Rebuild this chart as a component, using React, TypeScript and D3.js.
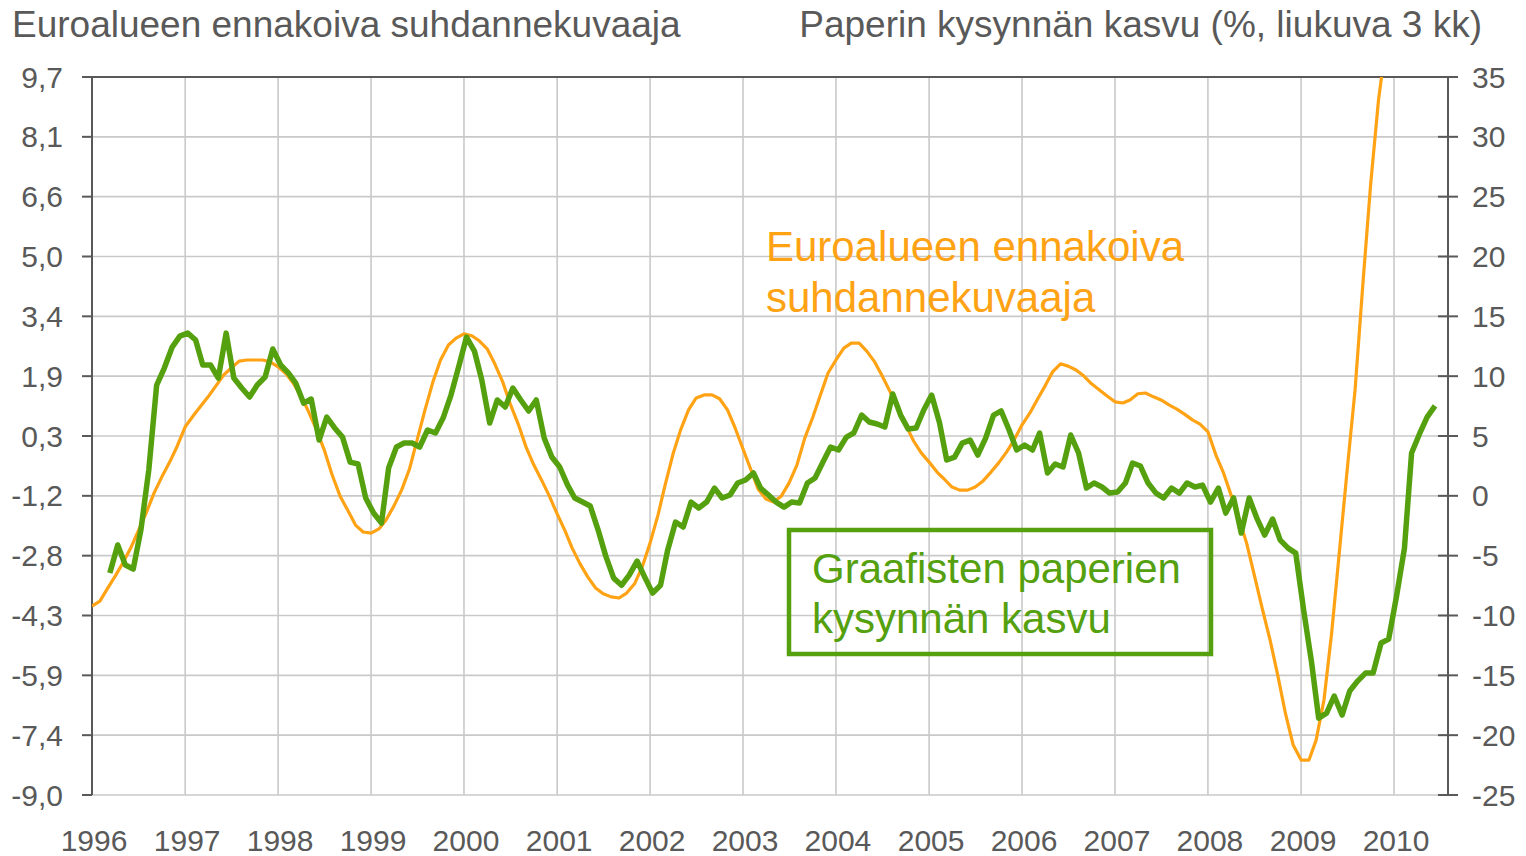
import * as d3 from "d3";
import { useRef, useEffect } from "react";

// Euroalueen ennakoiva suhdannekuvaaja, monthly from Jan 1996 (left axis)
const leadingIndicator: number[] = [
  -4.08, -3.95, -3.63, -3.30, -2.96, -2.57, -2.12, -1.65, -1.13, -0.72, -0.33, 0.09,
  0.59, 0.87, 1.11, 1.37, 1.65, 1.94, 2.12, 2.30, 2.33, 2.33, 2.33, 2.28,
  2.15, 1.97, 1.73, 1.39, 0.98, 0.51, -0.01, -0.66, -1.21, -1.58, -1.97, -2.15,
  -2.18, -2.07, -1.84, -1.47, -1.06, -0.51, 0.25, 1.03, 1.76, 2.33, 2.72, 2.90,
  3.01, 2.96, 2.83, 2.62, 2.23, 1.76, 1.18, 0.66, 0.06, -0.40, -0.80, -1.21,
  -1.68, -2.12, -2.57, -2.98, -3.32, -3.61, -3.76, -3.84, -3.87, -3.74, -3.50, -3.06,
  -2.44, -1.71, -0.93, -0.12, 0.51, 1.03, 1.34, 1.42, 1.42, 1.32, 1.03, 0.56,
  0.01, -0.53, -1.03, -1.29, -1.37, -1.21, -0.87, -0.40, 0.30, 0.82, 1.42, 1.99,
  2.33, 2.64, 2.77, 2.77, 2.56, 2.28, 1.91, 1.50, 1.05, 0.64, 0.22, -0.09,
  -0.33, -0.59, -0.77, -0.98, -1.06, -1.06, -0.98, -0.82, -0.59, -0.35, -0.07, 0.25,
  0.64, 0.95, 1.29, 1.65, 2.02, 2.23, 2.17, 2.07, 1.91, 1.71, 1.55, 1.39,
  1.24, 1.21, 1.29, 1.45, 1.47, 1.37, 1.29, 1.16, 1.05, 0.92, 0.77, 0.66,
  0.46, -0.14, -0.59, -1.19, -1.78, -2.44, -3.27, -4.13, -4.96, -5.87, -6.89, -7.70,
  -8.09, -8.09, -7.57, -6.52, -4.78, -2.62, -0.53, 1.55, 4.34, 6.89, 9.10, 10.6
];

// Paperin kysynnän kasvu (%, liukuva 3 kk), monthly from Mar 1996 (right axis)
const paperDemand: number[] = [
  -6.45, -4.11, -5.78, -6.12, -2.86, 2.16, 9.26, 10.68, 12.43, 13.35,
  13.60, 13.02, 10.93, 10.93, 9.84, 13.60, 9.84, 9.01, 8.26, 9.26, 9.93, 12.27,
  10.93, 10.26, 9.43, 7.75, 8.09, 4.66, 6.58, 5.67, 4.91, 2.82, 2.66, -0.18,
  -1.44, -2.27, 2.32, 4.08, 4.41, 4.41, 4.08, 5.50, 5.25, 6.50, 8.42, 10.76,
  13.27, 12.10, 9.68, 6.08, 8.01, 7.42, 9.01, 8.01, 7.09, 8.01, 4.83, 3.24,
  2.41, 0.90, -0.18, -0.52, -0.85, -2.86, -5.04, -6.88, -7.47, -6.63, -5.45, -6.79,
  -8.13, -7.47, -4.54, -2.19, -2.61, -0.52, -1.02, -0.52, 0.65, -0.18, 0.07, 1.07,
  1.32, 1.91, 0.65, 0.07, -0.52, -0.94, -0.52, -0.60, 1.07, 1.49, 2.82, 4.08,
  3.83, 4.91, 5.25, 6.75, 6.17, 6.00, 5.75, 8.51, 6.75, 5.58, 5.67, 7.17,
  8.42, 6.08, 2.99, 3.24, 4.41, 4.66, 3.41, 4.83, 6.75, 7.09, 5.50, 3.83,
  4.25, 3.83, 5.25, 1.91, 2.66, 2.41, 5.08, 3.58, 0.65, 1.07, 0.74, 0.23,
  0.32, 1.07, 2.74, 2.49, 1.07, 0.23, -0.18, 0.65, 0.23, 1.07, 0.74, 0.90,
  -0.52, 0.65, -1.44, -0.18, -3.11, -0.18, -1.86, -3.28, -1.94, -3.70, -4.37, -4.79,
  -9.55, -13.90, -18.58, -18.16, -16.73, -18.32, -16.31, -15.48, -14.81, -14.81, -12.30, -11.97,
  -8.37, -4.37, 3.58, 5.17, 6.58, 7.51
];

const years = d3.range(1996, 2011);
const leftTickLabels = ["-9,0", "-7,4", "-5,9", "-4,3", "-2,8", "-1,2", "0,3", "1,9", "3,4", "5,0", "6,6", "8,1", "9,7"];
const rightTicks = d3.range(-25, 40, 5);

const leftTitle = "Euroalueen ennakoiva suhdannekuvaaja";
const rightTitle = "Paperin kysynnän kasvu (%, liukuva 3 kk)";
const orangeLabel = ["Euroalueen ennakoiva", "suhdannekuvaaja"];
const greenLabel = ["Graafisten paperien", "kysynnän kasvu"];

const orange = "#ffa214";
const green = "#55a00e";
const textGray = "#595959";
const font = "'Liberation Sans', Arial, sans-serif";

export default function App() {
  const svgRef = useRef<SVGSVGElement | null>(null);
  const width = 1526;
  const height = 856;
  const left = 92, right = 1448, top = 77, bottom = 795;

  useEffect(() => {
    document.body.style.margin = "0";
    const svg = d3.select(svgRef.current);
    svg.selectAll("*").remove();

    const x = d3.scaleTime()
      .domain([new Date(1996, 0, 1), new Date(2010, 7, 1)])
      .range([left, right]);
    const yLeft = d3.scaleLinear().domain([-9, 9.7]).range([bottom, top]);
    const yRight = d3.scaleLinear().domain([-25, 35]).range([bottom, top]);

    const leftTickValues = leftTickLabels.map((_, i) => -9 + i * (18.7 / 12));

    // gridlines
    const grid = svg.append("g").attr("stroke", "#c9c9c9").attr("stroke-width", 1.6);
    grid.selectAll(".h")
      .data(rightTicks.slice(0, -1))
      .join("line")
      .attr("x1", left).attr("x2", right)
      .attr("y1", d => yRight(d)).attr("y2", d => yRight(d));
    grid.selectAll(".v")
      .data(years.slice(1))
      .join("line")
      .attr("x1", d => x(new Date(d, 0, 1))).attr("x2", d => x(new Date(d, 0, 1)))
      .attr("y1", top).attr("y2", bottom);

    // axes frame
    const axes = svg.append("g").attr("stroke", textGray).attr("stroke-width", 2);
    axes.append("line").attr("x1", left - 10).attr("x2", right).attr("y1", top).attr("y2", top);
    axes.append("line").attr("x1", left).attr("x2", left).attr("y1", top).attr("y2", bottom);
    axes.append("line").attr("x1", right).attr("x2", right).attr("y1", top).attr("y2", bottom);
    axes.selectAll(".lt")
      .data(leftTickValues)
      .join("line")
      .attr("x1", left - 10).attr("x2", left)
      .attr("y1", d => yLeft(d)).attr("y2", d => yLeft(d));
    axes.selectAll(".rt")
      .data(rightTicks)
      .join("line")
      .attr("x1", right - 10).attr("x2", right + 10)
      .attr("y1", d => yRight(d)).attr("y2", d => yRight(d));

    // tick labels
    const labels = svg.append("g")
      .attr("fill", textGray)
      .style("font-family", font)
      .style("font-size", "30px");
    labels.selectAll(".ll")
      .data(leftTickValues)
      .join("text")
      .attr("x", 63)
      .attr("y", d => yLeft(d) + 10.5)
      .attr("text-anchor", "end")
      .text((_, i) => leftTickLabels[i]);
    labels.selectAll(".rl")
      .data(rightTicks)
      .join("text")
      .attr("x", 1472)
      .attr("y", d => yRight(d) + 10.5)
      .text(d => d);
    labels.selectAll(".yl")
      .data(years)
      .join("text")
      .attr("x", d => x(new Date(d, 0, 1)) + 2)
      .attr("y", 851)
      .attr("text-anchor", "middle")
      .text(d => d);

    // titles
    svg.append("text")
      .attr("x", 12).attr("y", 37)
      .attr("fill", textGray)
      .style("font-family", font).style("font-size", "37px")
      .text(leftTitle);
    svg.append("text")
      .attr("x", 1482).attr("y", 37)
      .attr("text-anchor", "end")
      .attr("fill", textGray)
      .style("font-family", font).style("font-size", "37px")
      .text(rightTitle);

    // series
    svg.append("clipPath").attr("id", "plot-clip")
      .append("rect")
      .attr("x", left).attr("y", top)
      .attr("width", right - left).attr("height", bottom - top);

    const lineLeft = d3.line<number>()
      .x((_, i) => x(new Date(1996, i, 1)))
      .y(d => yLeft(d));
    const lineRight = d3.line<number>()
      .x((_, i) => x(new Date(1996, 2 + i, 11)))
      .y(d => yRight(d));

    const series = svg.append("g").attr("clip-path", "url(#plot-clip)");
    series.append("path")
      .datum(leadingIndicator)
      .attr("fill", "none")
      .attr("stroke", orange)
      .attr("stroke-width", 3.2)
      .attr("stroke-linejoin", "round")
      .attr("d", lineLeft);
    series.append("path")
      .datum(paperDemand)
      .attr("fill", "none")
      .attr("stroke", green)
      .attr("stroke-width", 5.5)
      .attr("stroke-linejoin", "round")
      .attr("d", lineRight);

    // series labels
    svg.append("g")
      .attr("fill", orange)
      .style("font-family", font).style("font-size", "42px")
      .selectAll("text")
      .data(orangeLabel)
      .join("text")
      .attr("x", 766)
      .attr("y", (_, i) => 261 + i * 51)
      .text(d => d);

    svg.append("rect")
      .attr("x", 789).attr("y", 530)
      .attr("width", 422).attr("height", 124)
      .attr("fill", "none")
      .attr("stroke", green)
      .attr("stroke-width", 4.5);
    svg.append("g")
      .attr("fill", green)
      .style("font-family", font).style("font-size", "42px")
      .selectAll("text")
      .data(greenLabel)
      .join("text")
      .attr("x", 812)
      .attr("y", (_, i) => 583 + i * 50)
      .text(d => d);
  }, []);

  return <svg ref={svgRef} width={width} height={height} style={{ display: "block" }} />;
}
